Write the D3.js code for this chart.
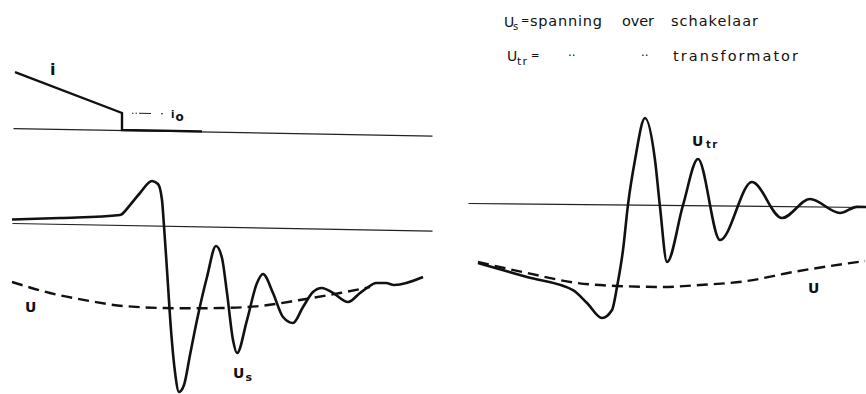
<!DOCTYPE html>
<html>
<head>
<meta charset="utf-8">
<script src="https://cdn.jsdelivr.net/npm/d3@7"></script>
<style>
  html, body { margin: 0; padding: 0; background: #fff; }
  svg { display: block; }
  text { font-family: "DejaVu Sans", "Liberation Sans", sans-serif; fill: #111; }
</style>
</head>
<body>
<svg id="chart" width="866" height="394"></svg>
<script>
// Current i through the switch (time, current); chopped at i0
const iTime = [0.3, 11.0, 11.0, 19.0];
const iValue = [5.6, 1.7, 0, 0];

// Voltage across the switch, Us
const usTime = [0, 4.8, 10.8, 11.8, 12.8, 14.0, 14.6, 15.0, 15.2, 15.5, 15.9, 16.3, 16.7, 17.2, 17.8, 18.5, 19.5, 20.4,
  21.0, 21.5, 22.1, 22.5, 23.5, 24.5, 25.1, 26.1, 27.1, 28.1, 29.1, 30.1, 31.0, 32.1, 33.6, 34.8, 35.5, 36.4, 37.4, 38.2, 41.1];
const usValue = [0.35, 0.59, 0.99, 2.01, 3.23, 4.45, 4.16, 2.57, -0.03, -4.42, -10.41, -14.61, -16.6, -15.89, -12.88, -9.37, -5.05, -1.93,
  -3.12, -6.61, -11.3, -12.6, -9.28, -5.56, -4.65, -6.53, -8.91, -9.49, -7.88, -6.36, -5.94, -6.42, -7.3, -6.37, -5.86, -5.34, -5.33, -5.51, -4.66];

// Supply voltage U (left panel)
const uLeftTime = [0, 3.8, 7.8, 11.1, 15.3, 20.8, 24.8, 28.8, 32.8, 35.8];
const uLeftValue = [-5.9, -6.93, -7.66, -8.1, -8.23, -8.13, -7.85, -7.18, -6.41, -5.76];

// Voltage across the transformer, Utr
const utrTime = [1.0, 5.9, 10.5, 11.9, 13.4, 14.4, 14.9, 15.5, 16.0, 16.7, 17.7, 18.7, 19.2, 19.9, 21.5, 23.0, 25.2, 28.4, 31.4, 34.2, 37.2, 38.9, 39.8];
const utrValue = [-5.99, -7.34, -8.6, -9.88, -11.37, -10.56, -8.25, -4.55, 0, 4.47, 8.68, 4.49, -0.2, -5.7, 0, 4.63, -3.45, 2.38, -1.19, 0.74, -0.63, 0, 0];

// Supply voltage U (right panel)
const uRightTime = [1.0, 5.9, 10.9, 14.9, 19.2, 23.2, 27.9, 32.5, 39.7];
const uRightValue = [-5.89, -6.94, -7.89, -8.15, -8.21, -7.97, -7.52, -6.58, -5.4];

// Time spans of the zero lines
const leftSpan = [0, 42];
const rightSpan = [0, 39.8];

const zip = (ts, vs) => ts.map((t, k) => [t, vs[k]]);

const svg = d3.select("#chart");

const x = d3.scaleLinear().domain([0, 42]).range([0, 420]);
const y = d3.scaleLinear().domain([0, 10]).range([0, -100]);

const lineMono = d3.line().x(d => x(d[0])).y(d => y(d[1])).curve(d3.curveMonotoneX);
const lineStraight = d3.line().x(d => x(d[0])).y(d => y(d[1]));

function panel(tx, ty, slopeDeg) {
  return svg.append("g").attr("transform", `translate(${tx},${ty}) skewY(${slopeDeg})`);
}
function zeroLine(g, span) {
  const ax = d3.axisBottom(x.copy().domain(span).range([x(span[0]), x(span[1])]))
    .tickValues([]).tickSizeOuter(0);
  const a = g.append("g").call(ax);
  a.select(".domain").attr("stroke", "#222").attr("stroke-width", 1.2);
}

// --- top left: chopped current ---
const gTop = panel(12, 128, 1.03);
zeroLine(gTop, [0.1, 42]);
gTop.append("path")
  .attr("d", lineStraight(zip(iTime, iValue)))
  .attr("fill", "none").attr("stroke", "#111").attr("stroke-width", 2.4)
  .attr("stroke-linejoin", "miter");
gTop.append("line")
  .attr("x1", x(12.0)).attr("x2", x(15.4))
  .attr("y1", y(iValue[1])).attr("y2", y(iValue[1]))
  .attr("stroke", "#222").attr("stroke-width", 1)
  .attr("stroke-dasharray", "1.5 2 1.5 2 12 10 2 40");

// --- lower left: switch voltage ---
const gLow = panel(12, 223, 1.03);
zeroLine(gLow, leftSpan);
gLow.append("path")
  .attr("d", lineMono(zip(uLeftTime, uLeftValue)))
  .attr("fill", "none").attr("stroke", "#111").attr("stroke-width", 2.4)
  .attr("stroke-dasharray", "11 6");
gLow.append("path")
  .attr("d", lineMono(zip(usTime, usValue)))
  .attr("fill", "none").attr("stroke", "#111").attr("stroke-width", 2.6);

// --- right: transformer voltage ---
const gRight = panel(468, 203, 0.573);
zeroLine(gRight, rightSpan);
gRight.append("path")
  .attr("d", lineMono(zip(uRightTime, uRightValue)))
  .attr("fill", "none").attr("stroke", "#111").attr("stroke-width", 2.4)
  .attr("stroke-dasharray", "11 6");
gRight.append("path")
  .attr("d", lineMono(zip(utrTime, utrValue)))
  .attr("fill", "none").attr("stroke", "#111").attr("stroke-width", 2.6);

// --- curve labels ---
function label(xp, yp, main, sub, size, subSize, dy, weight) {
  const t = svg.append("text").attr("x", xp).attr("y", yp)
    .attr("font-size", size).attr("font-weight", weight || "bold").text(main);
  if (sub) t.append("tspan").attr("font-size", subSize).attr("dy", dy).attr("dx", 1).text(sub);
  return t;
}
label(50, 75, "i", null, 16);
label(171, 118, "i", "o", 10, 12, 3, "bold");
label(25, 312, "U", null, 14);
label(233, 378, "U", "s", 14, 11, 3);
label(692, 146, "U", "tr", 14, 10, 2).attr("letter-spacing", 1.5);
label(808, 293, "U", null, 14);

// --- legend ---
const leg = svg.append("g").attr("font-weight", "normal");
function word(xp, yp, s, len, size) {
  const t = leg.append("text").attr("x", xp).attr("y", yp).attr("font-size", size || 14.5).text(s);
  if (len) t.attr("textLength", len).attr("lengthAdjust", "spacing");
  return t;
}
word(504, 27, "U", null, 14);
word(513, 30, "s", null, 10);
word(521, 24, "=", null, 10);
word(530, 26, "spanning", 72);
word(622, 26, "over", 32);
word(671, 26, "schakelaar", 87);

word(507, 61, "U", null, 14);
word(517, 65, "tr", 10, 11);
word(531, 59, "=", null, 10);
word(568, 60, "··", null, 12);
word(641, 60, "··", null, 12);
word(673, 61, "transformator", 125);
</script>
</body>
</html>
